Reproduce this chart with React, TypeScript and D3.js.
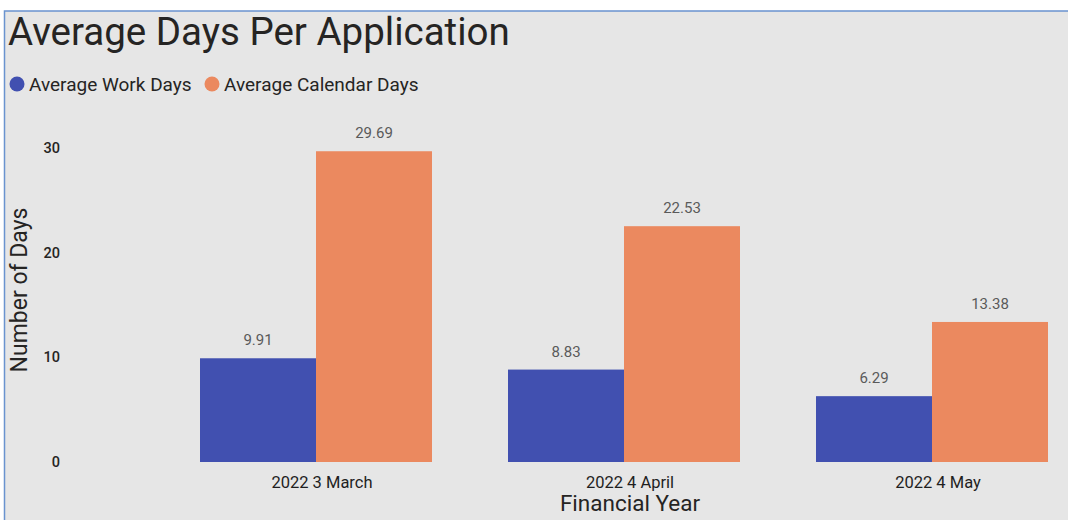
import React from "react";
import * as d3 from "d3";

const categories = ["2022 3 March", "2022 4 April", "2022 4 May"];
const seriesNames = ["Average Work Days", "Average Calendar Days"];
const workDays = [9.91, 8.83, 6.29];
const calendarDays = [29.69, 22.53, 13.38];
const yTicks = [0, 10, 20, 30];
const seriesColors = ["#4150B0", "#EB895F"];

const W = 1068;
const H = 520;
const FONT = "Roboto, 'DejaVu Sans', sans-serif";

export default function App() {
  const x = d3
    .scaleBand<string>()
    .domain(categories)
    .range([162, 1086])
    .paddingInner(0.2468)
    .paddingOuter(0.1234);
  const inner = d3
    .scaleBand<string>()
    .domain(seriesNames)
    .range([0, x.bandwidth()]);
  const y = d3.scaleLinear().domain([0, 30]).range([462, 148]);
  const series = [workDays, calendarDays];

  return (
    <div style={{ position: "fixed", left: 0, top: 0, width: W, height: H, background: "#fff" }}>
      <svg width={W} height={H} style={{ display: "block", fontFamily: FONT }}>
        <rect x={4.5} y={11} width={W} height={H} fill="#E6E6E6" stroke="#6A93CF" strokeWidth={1.5} />
        <text x={8} y={45} fontSize={38.5} fill="#252423">
          Average Days Per Application
        </text>
        {seriesNames.map((s, i) => {
          const lx = i === 0 ? 17 : 212;
          return (
            <g key={s}>
              <circle cx={lx} cy={84} r={7.5} fill={seriesColors[i]} />
              <text x={lx + 12} y={90.5} fontSize={19} fill="#252423">
                {s}
              </text>
            </g>
          );
        })}
        {yTicks.map((t) => (
          <text key={t} x={60} y={y(t) + 5} textAnchor="end" fontSize={14.5} fontWeight={500} fill="#252423">
            {t}
          </text>
        ))}
        <text
          transform={`translate(27, ${290}) rotate(-90)`}
          textAnchor="middle"
          fontSize={23}
          fill="#252423"
        >
          Number of Days
        </text>
        {categories.map((c, ci) => (
          <g key={c}>
            {series.map((vals, si) => {
              const bx = (x(c) as number) + (inner(seriesNames[si]) as number);
              const bw = inner.bandwidth();
              return (
                <g key={si}>
                  <rect x={bx} y={y(vals[ci])} width={bw} height={y(0) - y(vals[ci])} fill={seriesColors[si]} />
                  <text
                    x={bx + bw / 2}
                    y={y(vals[ci]) - 13}
                    textAnchor="middle"
                    fontSize={15}
                    fill="#5a5a5a"
                  >
                    {vals[ci].toFixed(2)}
                  </text>
                </g>
              );
            })}
            <text
              x={(x(c) as number) + x.bandwidth() / 2 + 6}
              y={488}
              textAnchor="middle"
              fontSize={16.5}
              fill="#1f1f1f"
            >
              {c}
            </text>
          </g>
        ))}
        <text x={630} y={511} textAnchor="middle" fontSize={22.5} fill="#252423">
          Financial Year
        </text>
      </svg>
    </div>
  );
}
